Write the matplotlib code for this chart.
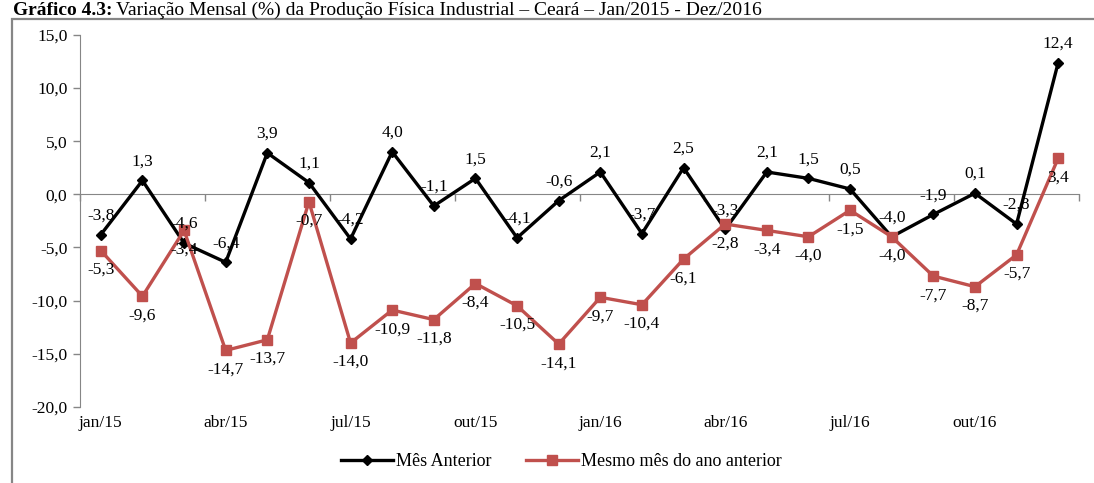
import matplotlib
matplotlib.use('Agg')
from matplotlib import pyplot as plt
from matplotlib.patches import Rectangle
import matplotlib.transforms as mtransforms

# Dados do gráfico
meses = ['jan/15', 'fev/15', 'mar/15', 'abr/15', 'mai/15', 'jun/15',
         'jul/15', 'ago/15', 'set/15', 'out/15', 'nov/15', 'dez/15',
         'jan/16', 'fev/16', 'mar/16', 'abr/16', 'mai/16', 'jun/16',
         'jul/16', 'ago/16', 'set/16', 'out/16', 'nov/16', 'dez/16']
mes_anterior = [-3.8, 1.3, -4.6, -6.4, 3.9, 1.1, -4.2, 4.0, -1.1, 1.5, -4.1, -0.6,
                2.1, -3.7, 2.5, -3.3, 2.1, 1.5, 0.5, -4.0, -1.9, 0.1, -2.8, 12.4]
mesmo_mes = [-5.3, -9.6, -3.4, -14.7, -13.7, -0.7, -14.0, -10.9, -11.8, -8.4, -10.5, -14.1,
             -9.7, -10.4, -6.1, -2.8, -3.4, -4.0, -1.5, -4.0, -7.7, -8.7, -5.7, 3.4]
yticks = [-20, -15, -10, -5, 0, 5, 10, 15]

SERIF = ['Liberation Serif', 'DejaVu Serif']
RED = '#C0504D'
GRAY = '#868686'


def fmt(v):
    return ('%.1f' % v).replace('.', ',')


def main():
    plt.rcParams['font.family'] = SERIF
    fig = plt.figure(figsize=(10.94, 4.83), dpi=100)
    ax = fig.add_axes([80 / 1094, (483 - 406.7) / 483, 999 / 1094, 371.7 / 483])

    x = list(range(len(meses)))
    ax.plot(x, mes_anterior, color='black', lw=2.4, marker='D', ms=5.5,
            label='Mês Anterior', zorder=3)
    ax.plot(x, mesmo_mes, color=RED, lw=2.4, marker='s', ms=7.5,
            label='Mesmo mês do ano anterior', zorder=3)

    # rótulos: série preta acima, vermelha abaixo
    for xi, v in zip(x, mes_anterior):
        ax.annotate(fmt(v), (xi, v), xytext=(0, 8), textcoords='offset points',
                    ha='center', va='bottom', fontsize=12.5)
    for xi, v in zip(x, mesmo_mes):
        ax.annotate(fmt(v), (xi, v), xytext=(0, -8), textcoords='offset points',
                    ha='center', va='top', fontsize=12.5)

    ax.set_xlim(-0.5, len(meses) - 0.5)
    ax.set_ylim(-20, 15)
    ax.set_yticks(yticks)
    ax.set_yticklabels([fmt(v) for v in yticks], fontsize=12.5)
    ax.tick_params(axis='y', length=5, width=1, color=GRAY, pad=4)

    # eixo horizontal passando pelo zero
    for s in ['top', 'right']:
        ax.spines[s].set_visible(False)
    ax.spines['left'].set_color(GRAY)
    ax.spines['bottom'].set_color(GRAY)
    ax.spines['bottom'].set_position(('data', 0))
    ax.set_xticks([i - 0.5 for i in range(0, len(meses) + 1, 3)])
    ax.set_xticklabels([])
    ax.tick_params(axis='x', length=5, width=1, color=GRAY, direction='out')

    trans = mtransforms.blended_transform_factory(ax.transData, ax.transAxes)
    for i in range(0, len(meses), 3):
        ax.text(i, -0.045, meses[i], transform=trans, ha='center', va='center',
                fontsize=12.5)

    fig.legend(loc='center', bbox_to_anchor=(0.513, (483 - 462) / 483), ncol=2,
               frameon=False, fontsize=13, handlelength=2.9, handletextpad=0.15,
               columnspacing=1.9)

    # moldura e título
    fig.patches.append(Rectangle((12 / 1094, -0.1), 1.2, (483 - 19) / 483 + 0.1,
                                 transform=fig.transFigure, fill=False,
                                 edgecolor=GRAY, lw=1.6))
    ty = (483 - 15) / 483
    t_bold = fig.text(13 / 1094, ty, 'Gráfico 4.3:', fontsize=14, fontweight='bold',
                      va='baseline', ha='left')
    renderer = fig.canvas.get_renderer()
    bb = t_bold.get_window_extent(renderer)
    fig.text((bb.x1 + 4) / 1094, ty,
             'Variação Mensal (%) da Produção Física Industrial – Ceará – Jan/2015 - Dez/2016',
             fontsize=14, va='baseline', ha='left')

    fig.savefig('out.png', dpi=100)


if __name__ == '__main__':
    main()
